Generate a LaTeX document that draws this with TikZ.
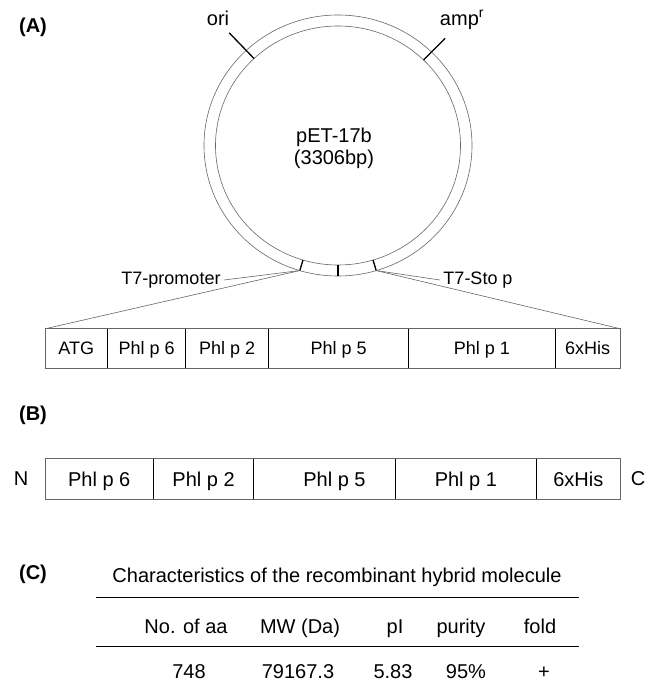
\documentclass[tikz,border=0pt]{standalone}
\usepackage{fontspec}
\setmainfont{Liberation Sans}
\usepackage{tikz}
\usetikzlibrary{positioning,calc,shapes.geometric}
\tikzset{
	figstyle/.style={
		x=1pt, y=-1pt,
		every node/.style={font=\fontsize{20}{22}\selectfont}}}

\begin{document}
\begin{tikzpicture}[figstyle,
	ring/.style={ellipse, draw=black!60, line width=0.6pt, inner sep=0pt, outer sep=0pt},
	tick/.style={line width=1.3pt},
	thinline/.style={draw=black!60, line width=0.6pt},
	seg/.style={rectangle, inner sep=0pt, minimum height=39pt, text height=12.9pt, text depth=0pt},
	segb/.style={rectangle, inner sep=0pt, minimum height=40pt, text height=14.3pt, text depth=0pt},
	frame/.style={draw=black!60, line width=0.9pt},
	divider/.style={line width=1pt},
	small/.style={font=\fontsize{18}{20}\selectfont},
	panel/.style={font=\fontsize{20}{22}\selectfont\bfseries},
	cell/.style={text height=14pt, text depth=4pt},
	rule/.style={line width=0.9pt},
	]
	
	\useasboundingbox (0,0) rectangle (647,684);
	
	\node[panel] (pa) at (33,27) {(A)};
	\node[ring, minimum width=268pt, minimum height=261pt] (outer) at (338,145.5) {};
	\node[ring, minimum width=245pt, minimum height=239pt] (inner) at (338,145.5) {};
	\node[align=center] (vec) at (334,148) {pET-17b\\(3306bp)};
	
	\coordinate (orie) at ($(outer.center)!1.185!(outer.134)$);
	\coordinate (ampe) at ($(outer.center)!1.147!(outer.45)$);
	\draw[tick] (inner.134) -- (orie);
	\draw[tick] (inner.45) -- (ampe);
	\node (ori) at (218,18) {ori};
	\node (amp) at (462,20) {amp\textsuperscript{r}};
	
	\draw[tick] (inner.253) -- (outer.253);
	\draw[tick] (inner.270) -- (outer.270);
	\draw[tick] (inner.287) -- (outer.287);
	
	\node[small] (t7p) at (171,280) {T7-promoter};
	\node[small] (t7s) at (478,280) {T7-Sto p};
	
	\node[seg, small, minimum width=62pt, anchor=west] (atg) at (45,348.5) {ATG};
	\node[seg, small, minimum width=78pt, right=0pt of atg] (p6a) {Phl p 6};
	\node[seg, small, minimum width=82.5pt, right=0pt of p6a] (p2a) {Phl p 2};
	\node[seg, small, minimum width=139.5pt, right=0pt of p2a] (p5a) {Phl p 5};
	\node[seg, small, minimum width=146pt, right=0pt of p5a] (p1a) {Phl p 1};
	\node[seg, small, minimum width=65pt, right=0pt of p1a] (hisa) {6xHis};
	\draw[frame] (atg.north west) rectangle (hisa.south east);
	\draw[divider] (atg.north east) -- (atg.south east);
	\draw[divider] (p6a.north east) -- (p6a.south east);
	\draw[divider] (p2a.north east) -- (p2a.south east);
	\draw[divider] (p5a.north east) -- (p5a.south east);
	\draw[divider] (p1a.north east) -- (p1a.south east);
	
	\draw[thinline] (t7p.east) -- (outer.253);
	\draw[thinline] (outer.287) -- (t7s.west);
	\draw[thinline] (outer.253) -- (atg.north west);
	\draw[thinline] (outer.287) -- (hisa.north east);
	
	\node[panel] (pb) at (33,415) {(B)};
	\node (nterm) at (21,479) {N};
	\node[segb, minimum width=108pt, anchor=west] (p6b) at (45,479) {Phl p 6};
	\node[segb, minimum width=100pt, right=0pt of p6b] (p2b) {Phl p 2};
	\node[segb, minimum width=141pt, right=0pt of p2b] (p5b) {\hspace*{20pt}Phl p 5};
	\node[segb, minimum width=141pt, right=0pt of p5b] (p1b) {Phl p 1};
	\node[segb, minimum width=83pt, right=0pt of p1b] (hisb) {6xHis};
	\node (cterm) at (638,479) {C};
	\draw[frame] (p6b.north west) rectangle (hisb.south east);
	\draw[divider] (p6b.north east) -- (p6b.south east);
	\draw[divider] (p2b.north east) -- (p2b.south east);
	\draw[divider] (p5b.north east) -- (p5b.south east);
	\draw[divider] (p1b.north east) -- (p1b.south east);
	
	\node[panel] (pc) at (33,574) {(C)};
	\node (title) at (337,577) {Characteristics of the recombinant hybrid molecule};
	\coordinate (rulea) at (96,597);
	\coordinate (ruleb) at (579,597);
	\coordinate (rulec) at (96,646);
	\coordinate (ruled) at (579,646);
	\draw[rule] (rulea) -- (ruleb);
	\draw[rule] (rulec) -- (ruled);
	
	\node[cell] (haa) at (186,628) {No. of aa};
	\node[cell] (hmw) at (300,628) {MW (Da)};
	\node[cell] (hpi) at (395,628) {pI};
	\node[cell] (hpur) at (461,628) {purity};
	\node[cell] (hfold) at (540,628) {fold};
	
	\node[cell] (daa) at (189,673) {748};
	\node[cell] (dmw) at (298,673) {79167.3};
	\node[cell] (dpi) at (393,673) {5.83};
	\node[cell] (dpur) at (466,673) {95\%};
	\node[cell] (dfold) at (544,673) {+};
	
\end{tikzpicture}
\end{document}
